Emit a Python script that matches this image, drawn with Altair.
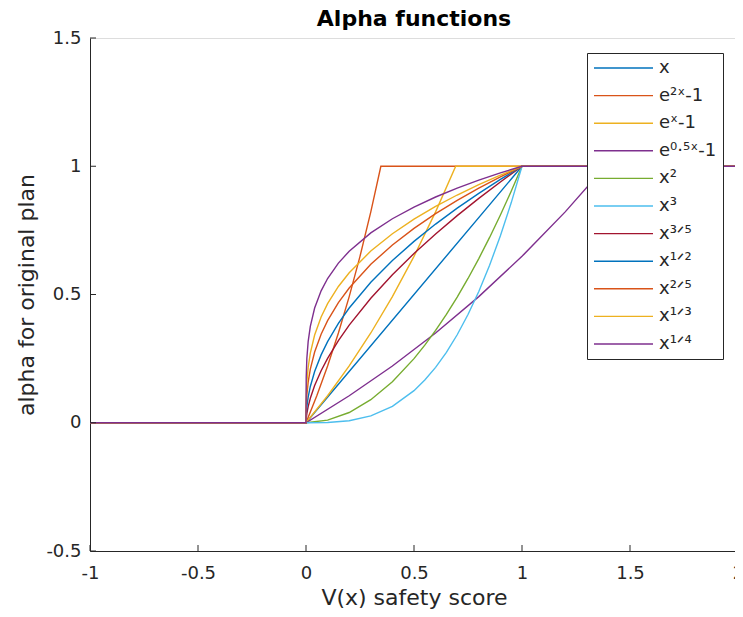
import altair as alt
import pandas as pd

# ---------------- data ----------------
x_ticks = [-1, -0.5, 0, 0.5, 1, 1.5, 2]
y_ticks = [-0.5, 0, 0.5, 1, 1.5]

labels = ["x", "e²ˣ-1", "eˣ-1", "e⁰·⁵ˣ-1", "x²", "x³",
          "x³ᐟ⁵", "x¹ᐟ²", "x²ᐟ⁵", "x¹ᐟ³", "x¹ᐟ⁴"]
colors = ["#0072BD", "#D95319", "#EDB120", "#7E2F8E", "#77AC30", "#4DBEEE",
          "#A2142F", "#0072BD", "#D95319", "#EDB120", "#7E2F8E"]

# flat parts: 0 for x < 0, 1 once saturated
lead_x, lead_y = [-1.0], [0.0]
tail_x, tail_y = [2.0], [1.0]

lin_x = [0.0, 1.0]
lin_y = [0.0, 1.0]

exp2_x = [0.0, 0.05, 0.1, 0.15, 0.2, 0.25, 0.3, 0.3466]
exp2_y = [0.0, 0.1052, 0.2214, 0.3499, 0.4918, 0.6487, 0.8221, 1.0]

exp1_x = [0.0, 0.1, 0.2, 0.3, 0.4, 0.5, 0.6, 0.6931]
exp1_y = [0.0, 0.1052, 0.2214, 0.3499, 0.4918, 0.6487, 0.8221, 1.0]

exph_x = [0.0, 0.2, 0.4, 0.6, 0.8, 1.0, 1.2, 1.3863]
exph_y = [0.0, 0.1052, 0.2214, 0.3499, 0.4918, 0.6487, 0.8221, 1.0]

pow_x = [0.0, 0.1, 0.2, 0.3, 0.4, 0.5, 0.55, 0.6, 0.65, 0.7, 0.75, 0.8, 0.85, 0.9, 0.95, 1.0]
sq_y = [0.0, 0.01, 0.04, 0.09, 0.16, 0.25, 0.3025, 0.36, 0.4225, 0.49, 0.5625, 0.64, 0.7225, 0.81, 0.9025, 1.0]
cube_y = [0.0, 0.001, 0.008, 0.027, 0.064, 0.125, 0.1664, 0.216, 0.2746, 0.343, 0.4219, 0.512, 0.6141, 0.729, 0.8574, 1.0]

root_x = [0.0, 0.001, 0.004, 0.01, 0.02, 0.04, 0.07, 0.1, 0.15, 0.2, 0.3, 0.4, 0.5, 0.6, 0.7, 0.8, 0.9, 1.0]
r35_y = [0.0, 0.0158, 0.0364, 0.0631, 0.0956, 0.1450, 0.2028, 0.2512, 0.3204, 0.3807, 0.4856, 0.5771, 0.6598, 0.7360, 0.8074, 0.8747, 0.9387, 1.0]
r12_y = [0.0, 0.0316, 0.0632, 0.1, 0.1414, 0.2, 0.2646, 0.3162, 0.3873, 0.4472, 0.5477, 0.6325, 0.7071, 0.7746, 0.8367, 0.8944, 0.9487, 1.0]
r25_y = [0.0, 0.0631, 0.1099, 0.1585, 0.2091, 0.2759, 0.3452, 0.3981, 0.4682, 0.5253, 0.6178, 0.6931, 0.7579, 0.8152, 0.8670, 0.9146, 0.9587, 1.0]
r13_y = [0.0, 0.1, 0.1587, 0.2154, 0.2714, 0.3420, 0.4121, 0.4642, 0.5313, 0.5848, 0.6694, 0.7368, 0.7937, 0.8434, 0.8879, 0.9283, 0.9655, 1.0]
r14_y = [0.0, 0.1778, 0.2515, 0.3162, 0.3761, 0.4472, 0.5144, 0.5623, 0.6223, 0.6687, 0.7401, 0.7953, 0.8409, 0.8801, 0.9147, 0.9457, 0.9740, 1.0]

series = [
    (lin_x, lin_y), (exp2_x, exp2_y), (exp1_x, exp1_y), (exph_x, exph_y),
    (pow_x, sq_y), (pow_x, cube_y),
    (root_x, r35_y), (root_x, r12_y), (root_x, r25_y), (root_x, r13_y), (root_x, r14_y),
]

rows = []
for k, (lab, (xs, ys)) in enumerate(zip(labels, series)):
    fx = lead_x + xs + tail_x
    fy = lead_y + ys + tail_y
    for i, (a, b) in enumerate(zip(fx, fy)):
        rows.append({"x": a, "y": b, "series": lab, "k": k, "i": i})
df = pd.DataFrame(rows)

# ---------------- styling ----------------
FONT = "DejaVu Sans"
AX = "#262626"
W, H = 645, 513          # visible view (page is only 727px wide inside its margins)
XR = 648                 # x scale runs a little past the right page edge, as in the reference
TICK = 6
PAD_T, PAD_B = 30, 58
LW = 1.4

xscale = alt.Scale(domain=[-1, 2], range=[0, XR], nice=False, zero=False)
yscale = alt.Scale(domain=[-0.5, 1.5], nice=False, zero=False)

xaxis = alt.Axis(
    values=x_ticks, title="V(x) safety score", grid=False,
    ticks=False, tickSize=0, labelPadding=13, labelFlush=False,
    labelExpr="toString(datum.value)",
    labelFont=FONT, labelFontSize=18, labelColor=AX,
    titleFont=FONT, titleFontSize=22, titleColor=AX, titleFontWeight="normal",
    titleBaseline="alphabetic", titleY=53, titleX=XR / 2,
    domainColor=AX, domainWidth=1)
yaxis = alt.Axis(
    values=y_ticks, title="alpha for original plan", grid=False,
    ticks=False, tickSize=0, labelPadding=9, labelFlush=False,
    labelExpr="toString(datum.value)",
    labelFont=FONT, labelFontSize=18, labelColor=AX,
    titleFont=FONT, titleFontSize=22, titleColor=AX, titleFontWeight="normal",
    titleAngle=-90, titleBaseline="alphabetic", titleAlign="center",
    titleX=-57, titleY=H / 2,
    domainColor=AX, domainWidth=1)

lines = alt.Chart(df).mark_line(strokeWidth=LW, clip=False).encode(
    x=alt.X("x:Q", scale=xscale, axis=xaxis, title="V(x) safety score"),
    y=alt.Y("y:Q", scale=yscale, axis=yaxis, title="alpha for original plan"),
    color=alt.Color("series:N", scale=alt.Scale(domain=labels, range=colors),
                    legend=alt.Legend(
                        title=None, orient="none", legendX=497, legendY=15,
                        symbolType="stroke", symbolSize=3481, symbolStrokeWidth=LW,
                        labelFont=FONT, labelFontSize=18, labelColor=AX,
                        labelLimit=300, labelOffset=5, clipHeight=18,
                        strokeColor=AX, fillColor="white", padding=6,
                        rowPadding=9.6)),
    order=alt.Order("i:Q"),
)

xt = pd.DataFrame({"t": x_ticks})
yt = pd.DataFrame({"t": y_ticks})

xtick = alt.Chart(xt).mark_rule(color=AX, strokeWidth=1).encode(
    x=alt.X("t:Q", scale=xscale, axis=xaxis, title="V(x) safety score"),
    y=alt.value(H), y2=alt.value(H - TICK))
ytick = alt.Chart(yt).mark_rule(color=AX, strokeWidth=1).encode(
    y=alt.Y("t:Q", scale=yscale, axis=yaxis, title="alpha for original plan"),
    x=alt.value(0), x2=alt.value(TICK))

chart = alt.layer(lines, xtick, ytick).properties(
    width=W, height=H,
    title=alt.TitleParams("Alpha functions", font=FONT, fontSize=22, fontWeight="bold",
                          color="black", anchor="middle", baseline="alphabetic",
                          offset=2, dy=21, dx=1.5),
    autosize=alt.AutoSizeParams(type="none"),
    padding={"left": 82, "top": PAD_T, "right": 0, "bottom": PAD_B},
).configure_view(strokeWidth=0, stroke="transparent").configure(background="white")

chart.save("out.html", embed_options={"renderer": "svg", "actions": False})
